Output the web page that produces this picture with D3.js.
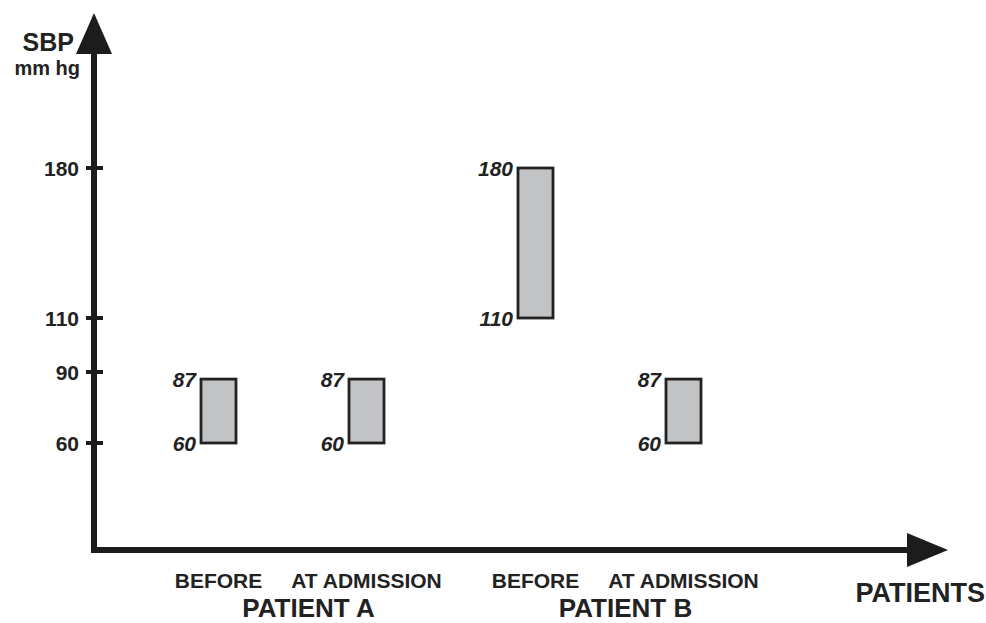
<!DOCTYPE html>
<html>
<head>
<meta charset="utf-8">
<script src="https://cdn.jsdelivr.net/npm/d3@7"></script>
<style>
  body { margin: 0; background: #fff; }
  text { font-family: "Liberation Sans", Arial, sans-serif; font-weight: bold; fill: #222; }
  .val { font-style: italic; }
</style>
</head>
<body>
<svg width="986" height="623"></svg>
<script>
const patients = ['PATIENT A', 'PATIENT B'];
const phases = ['BEFORE', 'AT ADMISSION'];
const lowValues  = [60, 60, 110, 60];
const highValues = [87, 87, 180, 87];
const yTicks = [60, 90, 110, 180];

const svg = d3.select('svg');
const ink = '#1c1c1c';

const data = [];
patients.forEach((p, i) => phases.forEach((ph, j) => {
  const k = i * phases.length + j;
  data.push({ patient: p, phase: ph, low: lowValues[k], high: highValues[k] });
}));

const origin = { x: 94, y: 550 };

// schematic axis: tick spacing is not to scale, so use a piecewise scale
const yScale = d3.scaleLinear()
  .domain([15, 60, 90, 110, 180])
  .range([origin.y, 443, 372, 318, 168]);

const xPatient = d3.scaleBand()
  .domain(patients)
  .range([134, 768]);

const xPhase = d3.scalePoint()
  .domain(phases)
  .range([-74, 74]);

const xCenter = d => xPatient(d.patient) + xPatient.bandwidth() / 2 + xPhase(d.phase);
const barWidth = 35;

// axes
svg.append('line')
  .attr('x1', origin.x).attr('y1', origin.y + 3)
  .attr('x2', origin.x).attr('y2', 50)
  .attr('stroke', ink).attr('stroke-width', 6);
svg.append('path')
  .attr('d', `M${origin.x},13 L${origin.x + 18},54 L${origin.x - 18},54 Z`)
  .attr('fill', ink);

svg.append('line')
  .attr('x1', origin.x - 3).attr('y1', origin.y)
  .attr('x2', 910).attr('y2', origin.y)
  .attr('stroke', ink).attr('stroke-width', 6);
svg.append('path')
  .attr('d', `M948,${origin.y} L907,${origin.y - 17} L907,${origin.y + 17} Z`)
  .attr('fill', ink);

// y ticks
const ticks = svg.append('g').selectAll('g')
  .data(yTicks)
  .enter().append('g')
  .attr('transform', d => `translate(${origin.x}, ${yScale(d)})`);
ticks.append('line')
  .attr('x1', -8).attr('x2', 9)
  .attr('stroke', ink).attr('stroke-width', 4);
ticks.append('text')
  .attr('x', -15)
  .attr('dy', '0.36em')
  .attr('text-anchor', 'end')
  .attr('font-size', 21)
  .text(d => d);

svg.append('text')
  .attr('x', 74).attr('y', 51)
  .attr('text-anchor', 'end')
  .attr('font-size', 25)
  .text('SBP');
svg.append('text')
  .attr('x', 80).attr('y', 75)
  .attr('text-anchor', 'end')
  .attr('font-size', 20)
  .text('mm hg');

// bars
const bars = svg.append('g').selectAll('g')
  .data(data)
  .enter().append('g');

bars.append('rect')
  .attr('x', d => xCenter(d) - barWidth / 2)
  .attr('y', d => yScale(d.high))
  .attr('width', barWidth)
  .attr('height', d => yScale(d.low) - yScale(d.high))
  .attr('fill', '#c2c3c5')
  .attr('stroke', '#222')
  .attr('stroke-width', 2.8);

bars.append('text')
  .attr('class', 'val')
  .attr('x', d => xCenter(d) - barWidth / 2 - 5)
  .attr('y', d => yScale(d.high))
  .attr('dy', '0.36em')
  .attr('text-anchor', 'end')
  .attr('font-size', 21)
  .text(d => d.high);

bars.append('text')
  .attr('class', 'val')
  .attr('x', d => xCenter(d) - barWidth / 2 - 5)
  .attr('y', d => yScale(d.low))
  .attr('dy', '0.36em')
  .attr('text-anchor', 'end')
  .attr('font-size', 21)
  .text(d => d.low);

// category labels
svg.append('g').selectAll('text')
  .data(data)
  .enter().append('text')
  .attr('x', d => xCenter(d))
  .attr('y', 588)
  .attr('text-anchor', 'middle')
  .attr('font-size', 21)
  .text(d => d.phase);

svg.append('g').selectAll('text')
  .data(patients)
  .enter().append('text')
  .attr('x', d => xPatient(d) + xPatient.bandwidth() / 2 + 16)
  .attr('y', 617)
  .attr('text-anchor', 'middle')
  .attr('font-size', 26)
  .text(d => d);

svg.append('text')
  .attr('x', 985).attr('y', 602)
  .attr('text-anchor', 'end')
  .attr('font-size', 27)
  .text('PATIENTS');
</script>
</body>
</html>
